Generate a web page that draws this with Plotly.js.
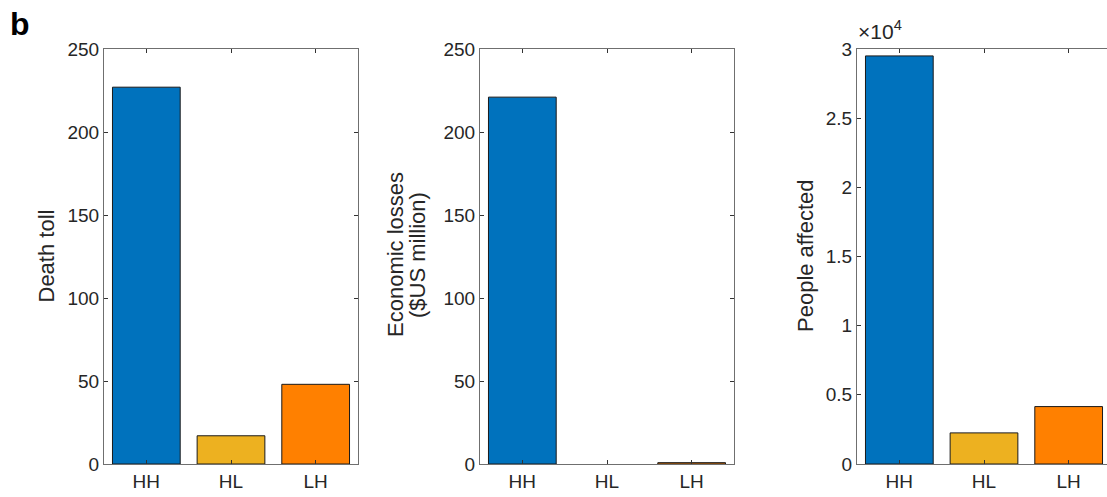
<!DOCTYPE html>
<html>
<head>
<meta charset="utf-8">
<script src="https://cdn.plot.ly/plotly-3.0.1.min.js"></script>
<style>
html,body{margin:0;padding:0;overflow:hidden;background:#fff;}
#chart{width:1112px;height:497px;}
</style>
</head>
<body>
<div id="chart"></div>
<script>
var categories = ['HH', 'HL', 'LH'];
var deathToll = [227, 17, 48];
var economicLosses = [221, 0, 0.8];
var peopleAffected = [29500, 2250, 4150];
var barColors = ['#0072BD', '#EDB120', '#FF8000'];
var yTicks12 = [0, 50, 100, 150, 200, 250];
var yTicks3 = [0, 5000, 10000, 15000, 20000, 25000, 30000];
var yTickText3 = ['0', '0.5', '1', '1.5', '2', '2.5', '3'];

var W = 1112, H = 497;
function px(x) { return x / W; }
function py(y) { return 1 - y / H; }

function barTrace(vals, xa, ya) {
  return {
    type: 'bar', x: categories, y: vals, xaxis: xa, yaxis: ya,
    width: 0.8,
    marker: {color: barColors, line: {color: '#1a1a1a', width: vals.map(function (v) { return v === 0 ? 0 : 1; })}},
    hoverinfo: 'x+y', showlegend: false
  };
}

var tickFont = {family: 'Liberation Sans, Arial, sans-serif', size: 19, color: '#262626'};
var axLine = '#6f6f6f';

function xax(dom, anchor) {
  return {
    domain: dom, anchor: anchor, type: 'category', range: [-0.5, 2.5],
    showline: true, linecolor: axLine, linewidth: 1, mirror: 'ticks',
    ticks: 'inside', ticklen: 4, tickcolor: '#333', tickwidth: 1,
    tickfont: tickFont, showgrid: false, zeroline: false, fixedrange: true
  };
}
function yax(anchor, range, tv, tt) {
  var a = {
    domain: [py(464), py(49)], anchor: anchor, range: range,
    showline: true, linecolor: axLine, linewidth: 1, mirror: 'ticks',
    ticks: 'inside', ticklen: 4, tickcolor: '#333', tickwidth: 1,
    tickfont: tickFont, showgrid: false, zeroline: false,
    tickmode: 'array', tickvals: tv, fixedrange: true
  };
  if (tt) a.ticktext = tt;
  return a;
}

var data = [
  barTrace(deathToll, 'x', 'y'),
  barTrace(economicLosses, 'x2', 'y2'),
  barTrace(peopleAffected, 'x3', 'y3')
];

var titleFont = {family: 'Liberation Sans, Arial, sans-serif', size: 22, color: '#262626'};

var layout = {
  width: W, height: H, autosize: false,
  margin: {l: 0, r: 0, t: 0, b: 0, pad: 0},
  paper_bgcolor: '#fff', plot_bgcolor: '#fff',
  bargap: 0.2,
  xaxis: xax([px(104), px(358)], 'y'),
  xaxis2: xax([px(480), px(734)], 'y2'),
  xaxis3: xax([px(857), px(1111)], 'y3'),
  yaxis: yax('x', [0, 250], yTicks12),
  yaxis2: yax('x2', [0, 250], yTicks12),
  yaxis3: yax('x3', [0, 30000], yTicks3, yTickText3),
  annotations: [
    {text: '<b>b</b>', xref: 'paper', yref: 'paper', x: px(8), y: py(24), xanchor: 'left', yanchor: 'middle',
     showarrow: false, font: {family: 'Liberation Sans, Arial, sans-serif', size: 32, color: '#000'}},
    {text: 'Death toll', xref: 'paper', yref: 'paper', x: px(45.5), y: py(256), xanchor: 'center', yanchor: 'middle',
     textangle: -90, showarrow: false, font: titleFont},
    {text: 'Economic losses', xref: 'paper', yref: 'paper', x: px(395), y: py(255), xanchor: 'center', yanchor: 'middle',
     textangle: -90, showarrow: false, font: titleFont},
    {text: '($US million)', xref: 'paper', yref: 'paper', x: px(417), y: py(255), xanchor: 'center', yanchor: 'middle',
     textangle: -90, showarrow: false, font: titleFont},
    {text: 'People affected', xref: 'paper', yref: 'paper', x: px(805), y: py(256), xanchor: 'center', yanchor: 'middle',
     textangle: -90, showarrow: false, font: titleFont},
    {text: '×10<sup>4</sup>', xref: 'paper', yref: 'paper', x: px(856), y: py(45), xanchor: 'left', yanchor: 'bottom',
     showarrow: false, font: {family: 'Liberation Sans, Arial, sans-serif', size: 21, color: '#262626'}}
  ]
};

Plotly.newPlot('chart', data, layout, {displayModeBar: false});
</script>
</body>
</html>
